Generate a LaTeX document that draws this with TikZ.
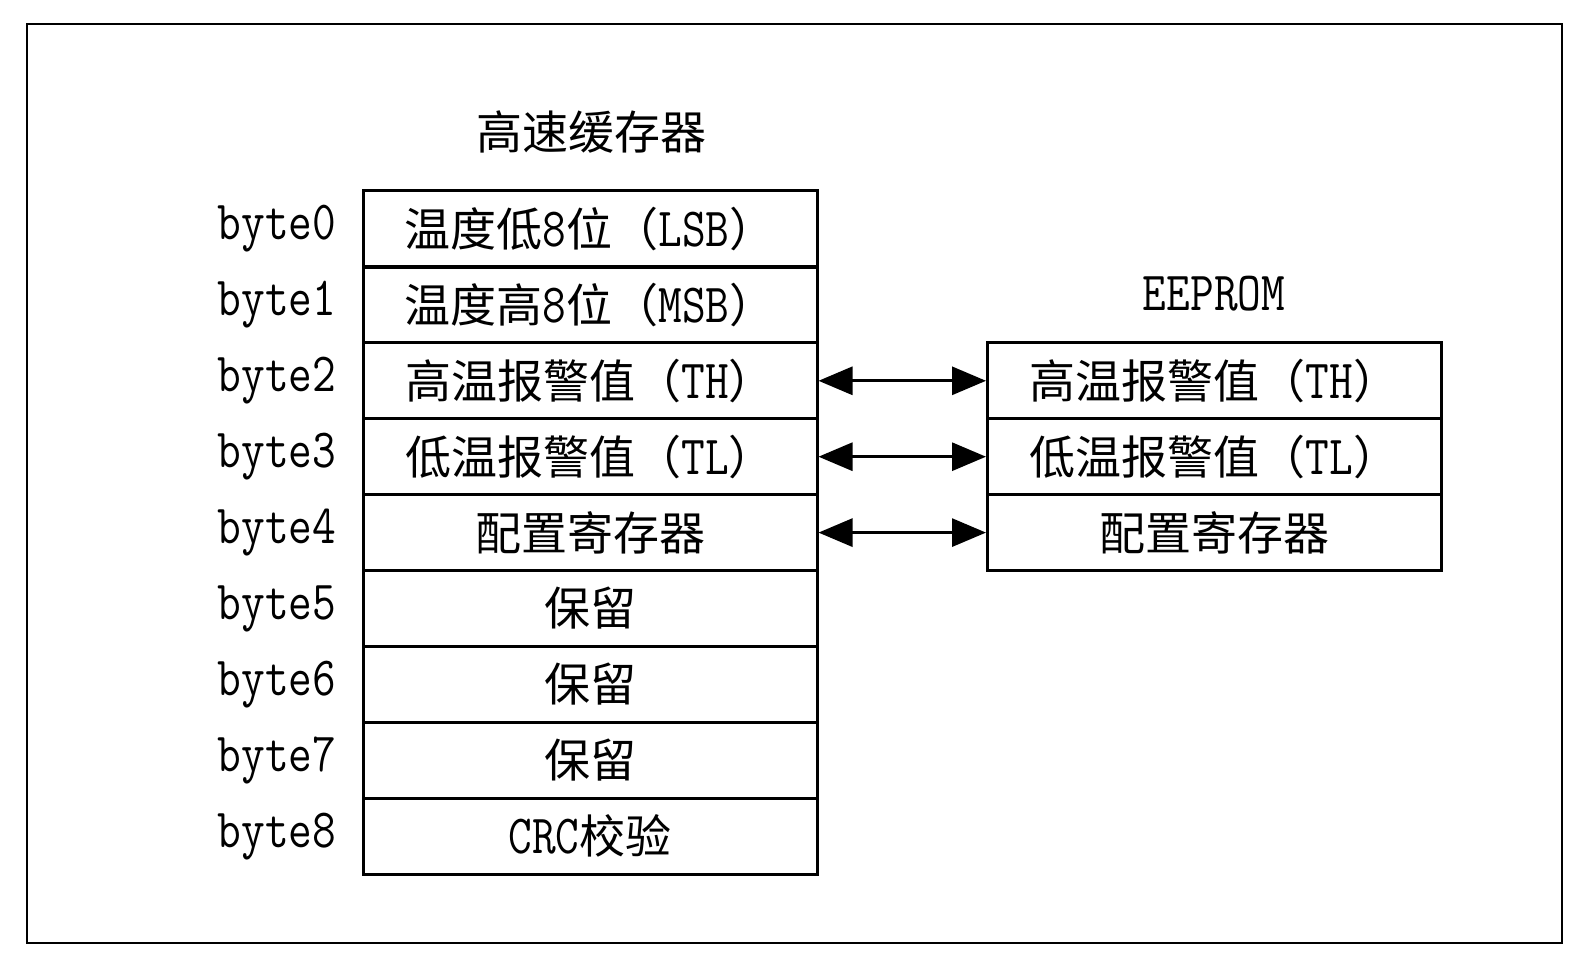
\documentclass[tikz,border=0pt]{standalone}
\usepackage{fontspec}
\newfontfamily\cjk{Noto Sans CJK SC}
\usetikzlibrary{arrows.meta}
\newcommand\en[1]{\scalebox{1}[1.2]{\ttfamily #1}}

\tikzset{
  cell/.style={draw, line width=1.5pt, minimum width=227pt, minimum height=38pt, inner sep=0pt, font=\cjk\fontsize{23}{26}\selectfont},
  bytelbl/.style={inner sep=0pt, font=\ttfamily\fontsize{23}{26}\selectfont},
  heading/.style={inner sep=0pt, font=\cjk\fontsize{23}{26}\selectfont},
  link/.style={{Triangle[length=17pt,width=14pt]}-{Triangle[length=17pt,width=14pt]}, line width=1.5pt}
}

\begin{document}
\begin{tikzpicture}[x=0.5pt,y=0.5pt,yscale=-1,xscale=1]
\useasboundingbox (0,0) rectangle (1589,968);

%Frame
\draw [line width=1.25pt] (27,24) rectangle (1562,943);

% Text Node
\node [heading] (cachetitle) at (591,132) {高速缓存器};
% Text Node
\node [heading] (eetitle) at (1214,294) {\en{EEPROM}};

%Scratchpad rows
\foreach \i/\txt in {0/{温度低\en{8}位（\en{LSB}）},1/{温度高\en{8}位（\en{MSB}）},2/{高温报警值（\en{TH}）},3/{低温报警值（\en{TL}）},4/{配置寄存器},5/{保留},6/{保留},7/{保留},8/{\en{CRC}校验}}{
  \node [cell] (c\i) at (590,229+75.9*\i) {\txt};
  \node [bytelbl] (b\i) at (277,229+75.9*\i) {\en{byte\i}};
}

%EEPROM rows
\node [cell] (e2) at (1214.5,229+75.9*2) {高温报警值（\en{TH}）};
\node [cell] (e3) at (1214.5,229+75.9*3) {低温报警值（\en{TL}）};
\node [cell] (e4) at (1214.5,229+75.9*4) {配置寄存器};

%Arrows
\foreach \i in {2,3,4}{
  \draw [link] (c\i.east) -- (e\i.west);
}

\end{tikzpicture}
\end{document}
